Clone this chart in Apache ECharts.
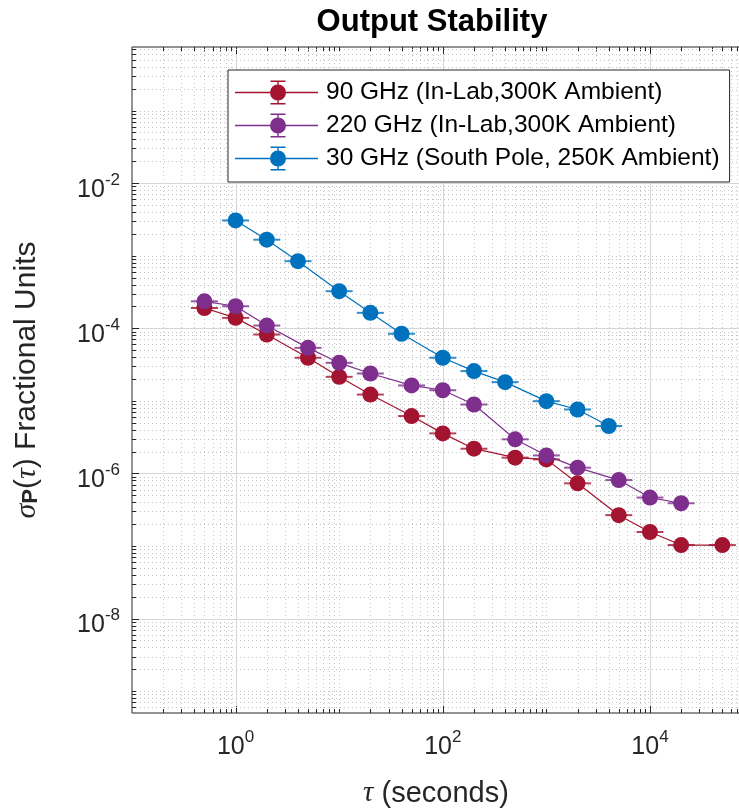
<!DOCTYPE html>
<html><head><meta charset="utf-8">
<script src="https://cdn.jsdelivr.net/npm/echarts@6/dist/echarts.min.js"></script>
<style>html,body{margin:0;padding:0;background:#fff}#c{width:739px;height:810px}</style>
</head><body><div id="c"></div>
<script>
// ---- data ----
const seriesNames = ['90 GHz (In-Lab,300K Ambient)', '220 GHz (In-Lab,300K Ambient)', '30 GHz (South Pole, 250K Ambient)'];
const tau90    = [0.5, 1, 2, 5, 10, 20, 50, 100, 200, 500, 1000, 2000, 5000, 10000, 20000, 50000];
const sigma90  = [1.9e-4, 1.39e-4, 8.2e-5, 3.92e-5, 2.14e-5, 1.22e-5, 6.17e-6, 3.56e-6, 2.19e-6, 1.65e-6, 1.56e-6, 7.3e-7, 2.66e-7, 1.56e-7, 1.03e-7, 1.03e-7];
const tau220   = [0.5, 1, 2, 5, 10, 20, 50, 100, 200, 500, 1000, 2000, 5000, 10000, 20000];
const sigma220 = [2.35e-4, 2.01e-4, 1.09e-4, 5.37e-5, 3.34e-5, 2.38e-5, 1.63e-5, 1.40e-5, 8.9e-6, 2.95e-6, 1.77e-6, 1.2e-6, 8.1e-7, 4.65e-7, 3.88e-7];
const tau30    = [1, 2, 4, 10, 20, 40, 100, 200, 400, 1000, 2000, 4000];
const sigma30  = [3.06e-3, 1.66e-3, 8.4e-4, 3.24e-4, 1.63e-4, 8.4e-5, 3.92e-5, 2.57e-5, 1.81e-5, 9.9e-6, 7.6e-6, 4.5e-6];
const xTickExponents = [0, 2, 4];        // labels 10^0, 10^2, 10^4
const yTickExponents = [-8, -6, -4, -2]; // labels 10^-8 ... 10^-2
const xLimits = [0.1, 7.4e4];
const yLimits = [5e-10, 0.75];
const titleText = 'Output Stability';

// ---- styling ----
const colors = ['#A2142F', '#7E2F8E', '#0072BD'];
const FONT = '"Liberation Sans", Arial, Helvetica, sans-serif';
const AX = '#262626';
const TITLE_SIZE = 31;

function zip(xs, ys) { return xs.map((x, i) => [x, ys[i]]); }

// grid / tick positions of a MATLAB style log axis (1..9 x 10^n)
function logTicks(lim, majors) {
  const out = [];
  const e0 = Math.floor(Math.log10(lim[0])), e1 = Math.ceil(Math.log10(lim[1]));
  for (let e = e0; e <= e1; e++) {
    for (let k = 1; k <= 9; k++) {
      const v = k * Math.pow(10, e);
      if (v <= lim[0] * 1.0001 || v >= lim[1] * 0.9999) continue;
      out.push({ v: v, major: (k === 1 && majors.includes(e)) ? 1 : 0 });
    }
  }
  return out;
}
const xGridTicks = logTicks(xLimits, xTickExponents);
const yGridTicks = logTicks(yLimits, yTickExponents);

// "10" with a raised exponent; the empty 'h' token only sets the line height
function tickLabel(list) {
  return function (v) {
    const e = Math.log10(v), r = Math.round(e);
    if (Math.abs(e - r) > 1e-6 || !list.includes(r)) return '';
    return '{b|10}{e|' + r + '}{h| }';
  };
}
const labelRich = {
  b: { fontSize: 25, fontFamily: FONT, color: AX, lineHeight: 25, verticalAlign: 'bottom' },
  e: { fontSize: 17, fontFamily: FONT, color: AX, lineHeight: 17, verticalAlign: 'top' },
  h: { fontSize: 1, lineHeight: 31, width: 0 }
};

function renderXGrid(params, api) {
  const cs = params.coordSys;
  const p = api.coord([api.value(0), yLimits[0]]);
  const major = api.value(2) === 1;
  const x = Math.round(p[0]) + 0.5;
  const top = cs.y, bot = cs.y + cs.height;
  const tl = major ? 7 : 4;
  return { type: 'group', children: [
    { type: 'line', shape: { x1: x, y1: top, x2: x, y2: bot },
      style: { stroke: major ? '#d6d6d6' : '#c4c4c4', lineWidth: 1, lineDash: major ? null : [1, 3] } },
    { type: 'line', shape: { x1: x, y1: bot, x2: x, y2: bot - tl }, style: { stroke: AX, lineWidth: 1 } },
    { type: 'line', shape: { x1: x, y1: top, x2: x, y2: top + tl }, style: { stroke: AX, lineWidth: 1 } }
  ]};
}
function renderYGrid(params, api) {
  const cs = params.coordSys;
  const p = api.coord([xLimits[0], api.value(1)]);
  const major = api.value(2) === 1;
  const y = Math.round(p[1]) + 0.5;
  const l = cs.x, r = cs.x + cs.width;
  const tl = major ? 7 : 4;
  return { type: 'group', children: [
    { type: 'line', shape: { x1: l, y1: y, x2: r, y2: y },
      style: { stroke: major ? '#d6d6d6' : '#c4c4c4', lineWidth: 1, lineDash: major ? null : [1, 3] } },
    { type: 'line', shape: { x1: l, y1: y, x2: l + tl, y2: y }, style: { stroke: AX, lineWidth: 1 } }
  ]};
}

// legend icon: line + error bar + filled circle (83 x 24 box)
const legendIcon = 'path://M0 11.3H83V12.7H0Z M42.3 0H43.7V24H42.3Z M35.5 0H50.5V1.4H35.5Z M35.5 22.6H50.5V24H35.5Z M35 12A8 8 0 1 1 51 12A8 8 0 1 1 35 12Z';

const datasets = [zip(tau90, sigma90), zip(tau220, sigma220), zip(tau30, sigma30)];
const series = [
  { type: 'custom', name: 'xgrid', silent: true, z: 1, renderItem: renderXGrid,
    data: xGridTicks.map(t => [t.v, yLimits[0], t.major]) },
  { type: 'custom', name: 'ygrid', silent: true, z: 1, renderItem: renderYGrid,
    data: yGridTicks.map(t => [xLimits[0], t.v, t.major]) }
];
datasets.forEach((d, i) => {
  series.push({ type: 'scatter', name: seriesNames[i] + ' err', data: d, symbol: 'rect',
    symbolSize: [27, 2], itemStyle: { color: colors[i] }, z: 2 + i * 2, silent: true });
  series.push({ type: 'line', name: seriesNames[i], data: d, symbol: 'circle', symbolSize: 16,
    showAllSymbol: true, lineStyle: { color: colors[i], width: 1.2 },
    itemStyle: { color: colors[i], opacity: 1 }, z: 3 + i * 2, emphasis: { disabled: true } });
});

// centre the title over the axes (as MATLAB does)
const ctx = document.createElement('canvas').getContext('2d');
ctx.font = 'bold ' + TITLE_SIZE + 'px ' + FONT;
const titleW = ctx.measureText(titleText).width;
const gridLeft = 132, gridRight = -1;
const axesCenter = (gridLeft + (739 - gridRight)) / 2 - 4;

const chart = echarts.init(document.getElementById('c'), null, { renderer: 'canvas' });
chart.setOption({
  animation: false,
  backgroundColor: '#ffffff',
  title: { text: titleText, left: axesCenter - titleW / 2, top: 6, padding: 0,
    textStyle: { fontFamily: FONT, fontWeight: 'bold', fontSize: TITLE_SIZE, color: '#000', lineHeight: 32 } },
  grid: { left: gridLeft, top: 47, right: gridRight, bottom: 97, containLabel: false, outerBoundsMode: 'none',
    show: true, borderColor: AX, borderWidth: 1, backgroundColor: 'transparent' },
  legend: {
    data: seriesNames.map(n => ({ name: n, icon: legendIcon })),
    orient: 'vertical', left: 228, top: 70, itemWidth: 83, itemHeight: 24, itemGap: 8,
    padding: [10, 10, 11, 7], backgroundColor: '#ffffff', borderColor: AX, borderWidth: 1,
    symbolKeepAspect: false, itemStyle: { borderWidth: 0 }, selectedMode: false,
    textStyle: { fontFamily: FONT, fontSize: 24.5, color: '#000', padding: [0, 0, 0, 3] }
  },
  xAxis: {
    type: 'log', logBase: 10, min: xLimits[0], max: xLimits[1],
    name: '{i|τ} (seconds)', nameLocation: 'middle', nameGap: 66,
    nameTextStyle: { fontFamily: FONT, fontSize: 29, color: AX,
      rich: { i: { fontFamily: 'serif', fontStyle: 'italic', fontSize: 29, color: AX } } },
    axisLine: { show: false }, axisTick: { show: false }, splitLine: { show: false }, minorTick: { show: false },
    axisLabel: { formatter: tickLabel(xTickExponents), margin: 16, rich: labelRich }
  },
  yAxis: {
    type: 'log', logBase: 10, min: yLimits[0], max: yLimits[1],
    name: '{i|σ}{s|P}{n|(}{i|τ}{n|) Fractional Units}', nameLocation: 'middle', nameGap: 90,
    nameTextStyle: { fontFamily: FONT, fontSize: 30, color: AX,
      rich: {
        i: { fontFamily: 'serif', fontStyle: 'italic', fontSize: 30, color: AX, lineHeight: 30, verticalAlign: 'top' },
        n: { fontFamily: FONT, fontSize: 30, color: AX, lineHeight: 30, verticalAlign: 'top' },
        s: { fontFamily: FONT, fontWeight: 'bold', fontSize: 22, color: AX, lineHeight: 22, verticalAlign: 'bottom', padding: [15, 0, 0, 0] }
      } },
    axisLine: { show: false }, axisTick: { show: false }, splitLine: { show: false }, minorTick: { show: false },
    axisLabel: { formatter: tickLabel(yTickExponents), margin: 12, rich: labelRich, padding: [8, 0, 0, 0] }
  },
  series: series
});
</script></body></html>
